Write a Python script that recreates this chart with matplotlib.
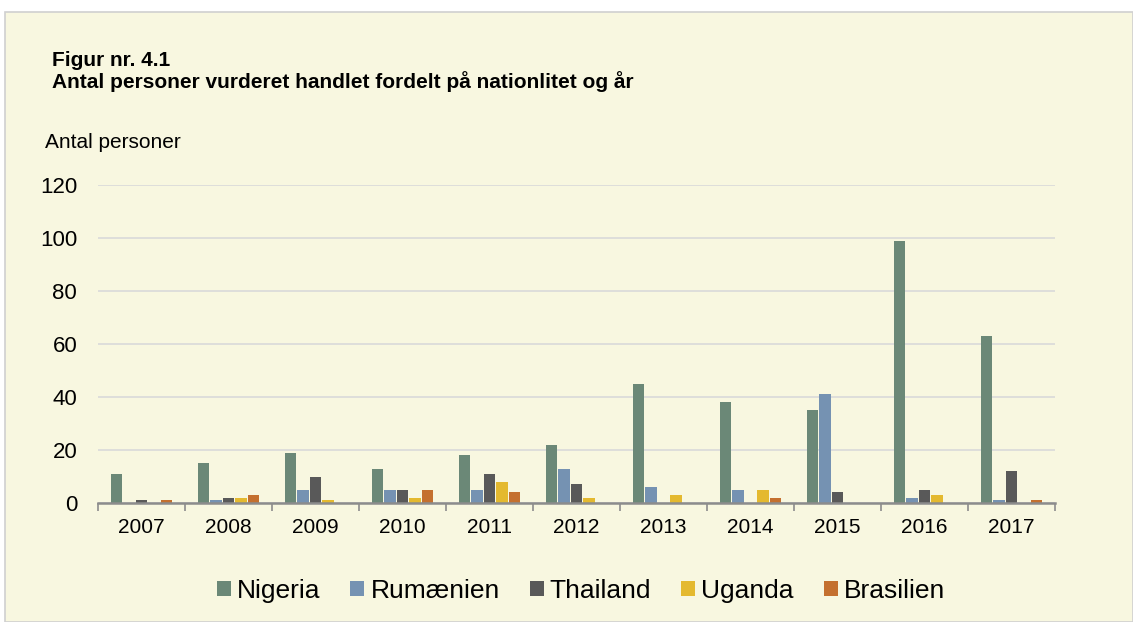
import matplotlib
matplotlib.use("Agg")
import matplotlib.pyplot as plt
import numpy as np
from matplotlib.patches import Rectangle

years = ["2007", "2008", "2009", "2010", "2011", "2012", "2013", "2014", "2015", "2016", "2017"]
series_names = ["Nigeria", "Rumænien", "Thailand", "Uganda", "Brasilien"]
nigeria = [11, 15, 19, 13, 18, 22, 45, 38, 35, 99, 63]
rumaenien = [0, 1, 5, 5, 5, 13, 6, 5, 41, 2, 1]
thailand = [1, 2, 10, 5, 11, 7, 0, 0, 4, 5, 12]
uganda = [0, 2, 1, 2, 8, 2, 3, 5, 0, 3, 0]
brasilien = [1, 3, 0, 5, 4, 0, 0, 2, 0, 0, 1]
yticks = [0, 20, 40, 60, 80, 100, 120]

colors = ["#6B8877", "#7592B2", "#595959", "#E4B92F", "#C4702F"]
bg = "#F8F7E0"

plt.rcParams['font.family'] = ['Liberation Sans', 'DejaVu Sans']

fig = plt.figure(figsize=(11.33, 6.22), dpi=100)
fig.patch.set_facecolor("white")
# panel background with border
fig.add_artist(Rectangle((5/1133, 0), 1 - 5/1133, 1 - 12/622, transform=fig.transFigure,
                         facecolor=bg, edgecolor="#D0D0D0", linewidth=1.2, zorder=0))

ax = fig.add_axes([98/1133, 1 - 503/622, (1055 - 98)/1133, (503 - 185)/622])
ax.set_facecolor(bg)

data = [nigeria, rumaenien, thailand, uganda, brasilien]
x = np.arange(len(years))
step = 0.144
width = 0.128
for i, (vals, name, c) in enumerate(zip(data, series_names, colors)):
    ax.bar(x + (i - 2) * step, vals, width, color=c, label=name, zorder=3,
           edgecolor="none")

ax.set_xlim(-0.5, len(years) - 0.5)
ax.set_ylim(0, 120)
ax.set_yticks(yticks)
ax.set_yticklabels([str(t) for t in yticks], fontsize=16)
ax.set_xticks(x)
ax.set_xticklabels(years, fontsize=15)
ax.set_xticks(np.arange(-0.5, len(years)), minor=True)
ax.tick_params(axis='x', which='major', length=0, pad=11)
ax.tick_params(axis='x', which='minor', length=6, color="#8C8C8C", width=1.2)
ax.tick_params(axis='y', length=0, pad=15)
ax.grid(axis='y', color="#D9D9D9", linewidth=1.2, zorder=0)
for s in ["top", "right", "left"]:
    ax.spines[s].set_visible(False)
ax.spines["bottom"].set_color("#8C8C8C")
ax.spines["bottom"].set_linewidth(1.8)
ax.spines["bottom"].set_zorder(4)

fig.text(52/1133, 1 - 60/622, "Figur nr. 4.1", fontsize=15, fontweight="bold", va="center", ha="left")
fig.text(52/1133, 1 - 82/622, "Antal personer vurderet handlet fordelt på nationlitet og år",
         fontsize=15, fontweight="bold", va="center", ha="left")
fig.text(45/1133, 1 - 143/622, "Antal personer", fontsize=15, va="center", ha="left")

leg = fig.legend(loc="center", bbox_to_anchor=(581/1133, 1 - 591/622), ncol=5, frameon=False,
                 fontsize=19, handlelength=0.53, handleheight=0.53, handletextpad=0.23,
                 columnspacing=1.14)

fig.savefig("out.png", dpi=100, facecolor=fig.get_facecolor())
